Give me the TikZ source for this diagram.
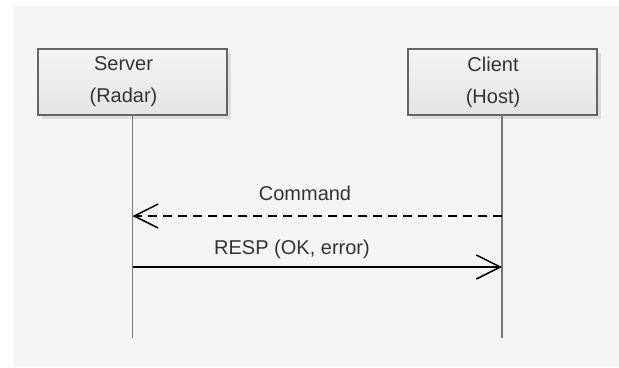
\documentclass[tikz,border=0pt]{standalone}
\usepackage{fontspec}
\setmainfont{Liberation Sans}
\usetikzlibrary{arrows.meta,shadows}
\definecolor{bggray}{HTML}{F5F5F5}
\definecolor{boxtop}{HTML}{F4F4F4}
\definecolor{boxbottom}{HTML}{E5E5E5}
\definecolor{boxline}{HTML}{646464}
\definecolor{lifegray}{HTML}{777777}
\definecolor{textgray}{HTML}{333333}

\begin{document}
\begin{tikzpicture}[x=1bp, y=-1bp,
  every node/.style={font=\fontsize{20bp}{32bp}\selectfont, text=textgray, outer sep=0pt},
  actor/.style={draw=boxline, line width=2bp, top color=boxtop, bottom color=boxbottom,
    minimum width=189bp, minimum height=66bp,
    drop shadow={shadow xshift=4bp, shadow yshift=-4bp, fill=black!13, opacity=1},
    label={[align=center, xshift=-9bp]center:{#1}}},
  lifeline/.style={draw=lifegray, line width=1.6bp},
  msg/.style={line width=1.5bp, -{Straight Barb[length=24bp, width=24bp]}}]
\useasboundingbox (0,0) rectangle (619,367);
\fill[bggray] (14,6) rectangle (619,367);

\node[actor={Server\\(Radar)}] (server) at (132.5,82) {};
\node[actor={Client\\(Host)}] (client) at (502,82) {};
\coordinate (server end) at (132.5,338);
\coordinate (client end) at (502,338);
\draw[lifeline] (server) -- (server end);
\draw[lifeline] (client) -- (client end);

\coordinate (cmd) at (0,216);
\coordinate (resp) at (0,267);
\draw[msg, dash pattern=on 9bp off 6bp] (client |- cmd) -- (server |- cmd);
\draw[msg] (server |- resp) -- (client |- resp);
\node (cmd label) at (305,193) {Command};
\node (resp label) at (292,249) {RESP (OK, error)};
\end{tikzpicture}
\end{document}
